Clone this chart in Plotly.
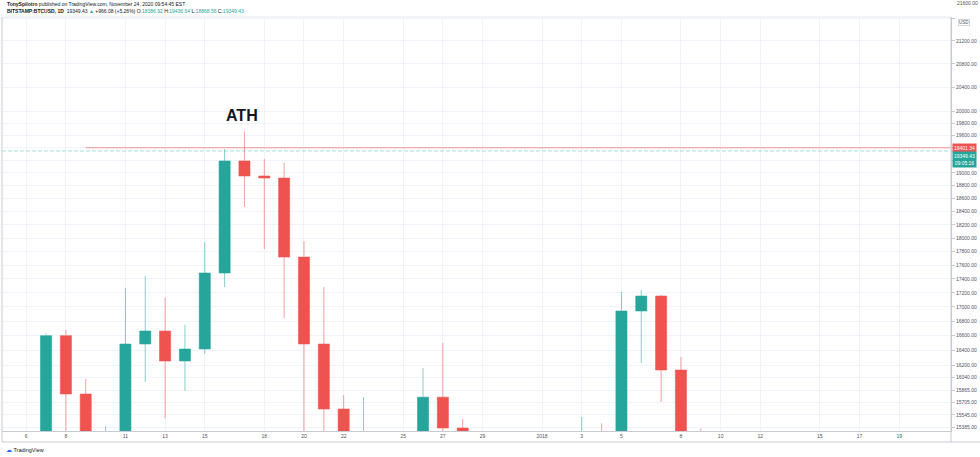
import math
import plotly.graph_objects as go

# ---------------- data ----------------
dates = ["2017-12-05", "2017-12-06", "2017-12-07", "2017-12-08", "2017-12-09", "2017-12-10",
         "2017-12-11", "2017-12-12", "2017-12-13", "2017-12-14", "2017-12-15", "2017-12-16",
         "2017-12-17", "2017-12-18", "2017-12-19", "2017-12-20", "2017-12-21", "2017-12-22",
         "2017-12-23", "2017-12-24", "2017-12-25", "2017-12-26", "2017-12-27", "2017-12-28",
         "2017-12-29", "2017-12-30", "2017-12-31", "2018-01-01", "2018-01-02", "2018-01-03",
         "2018-01-04", "2018-01-05", "2018-01-06", "2018-01-07", "2018-01-08", "2018-01-09"]
opens = [11600, 11700, 13700, 16600, 15815, 14700, 15100, 16485, 16664, 16254, 16417, 17486,
         19190, 18952, 18920, 17718, 16485, 15620, 13800, 14600, 13900, 13950, 15774, 15375,
         14300, 14600, 12800, 13900, 13400, 14700, 15100, 15050, 16943, 17155, 16133, 14976]
highs = [11900, 13900, 16630, 16680, 16013, 15400, 17270, 17440, 17130, 16750, 17940, 19380,
         19666, 19220, 19160, 17956, 17284, 15800, 15774, 14800, 14500, 16160, 16500, 15490,
         15100, 14800, 14300, 14000, 15200, 15516, 15435, 17212, 17240, 17170, 16308, 15370]
lows = [11450, 11700, 13300, 13900, 13900, 13200, 15000, 15975, 15500, 15856, 16350, 17284,
        18470, 17838, 16845, 14800, 14100, 11000, 13500, 12500, 13300, 13800, 14200, 13500,
        14000, 12300, 12700, 12800, 12900, 14600, 14000, 14800, 16227, 15711, 13900, 14150]
closes = [11700, 13700, 16600, 15815, 14700, 15100, 16485, 16664, 16254, 16417, 17486, 19190,
          18952, 18920, 17718, 16485, 15620, 13800, 14600, 13900, 13950, 15774, 15375, 14300,
          14600, 12800, 13900, 13400, 14700, 15100, 15050, 16943, 17155, 16133, 14976, 14595]

x_tick_dates = ["2017-12-06", "2017-12-08", "2017-12-11", "2017-12-13", "2017-12-15",
                "2017-12-18", "2017-12-20", "2017-12-22", "2017-12-25", "2017-12-27",
                "2017-12-29", "2018-01-01", "2018-01-03", "2018-01-05", "2018-01-08",
                "2018-01-10", "2018-01-12", "2018-01-15", "2018-01-17", "2018-01-19"]
x_tick_text = ["6", "8", "11", "13", "15", "18", "20", "22", "25", "27", "29", "2018",
               "3", "5", "8", "10", "12", "15", "17", "19"]

y_tick_vals = [21600, 21200, 20800, 20400, 20000, 19800, 19600, 19400, 19200, 19000, 18800,
               18600, 18400, 18200, 18000, 17800, 17600, 17400, 17200, 17000, 16800, 16600,
               16400, 16200, 16040, 15865, 15705, 15545, 15385]
y_tick_hidden = [21600, 19400, 19200]
top_label = 21600

last_high_price = 19401.34
last_price = 19349.43
countdown = "09:05:16"
red_line_start = "2017-12-09"

x_range = ["2017-12-04T18:43", "2018-01-21T14:38"]
y_range_prices = [15337, 21625]

UP = "#26a69a"
DOWN = "#ef5350"
GRID = "#f0f3fa"
AXIS = "#c8cbd3"
TXT = "#50535e"

fig = go.Figure()

fig.add_trace(go.Candlestick(
    x=dates, open=opens, high=highs, low=lows, close=closes,
    increasing=dict(fillcolor=UP, line=dict(color="rgba(38,166,154,0.55)", width=1)),
    decreasing=dict(fillcolor=DOWN, line=dict(color="rgba(239,83,80,0.55)", width=1)),
    whiskerwidth=0, hoverinfo="skip", showlegend=False,
))

# price lines
fig.add_trace(go.Scatter(
    x=x_range, y=[last_price, last_price], mode="lines",
    line=dict(color="rgba(38,166,154,0.4)", width=1, dash="4px,2px"),
    hoverinfo="skip", showlegend=False))
fig.add_trace(go.Scatter(
    x=[red_line_start, x_range[1]], y=[last_high_price, last_high_price], mode="lines",
    line=dict(color="rgba(239,83,80,0.6)", width=1),
    hoverinfo="skip", showlegend=False))

y_text = ["" if v in y_tick_hidden else f"{v:.2f}" for v in y_tick_vals]

fig.update_layout(
    width=980, height=457, autosize=False,
    margin=dict(l=2, r=29, t=17, b=26),
    paper_bgcolor="white", plot_bgcolor="white",
    font=dict(family="Arial", size=5, color=TXT),
    boxgap=0.2,
    xaxis=dict(
        type="date", range=x_range, rangeslider=dict(visible=False),
        tickvals=x_tick_dates, ticktext=x_tick_text, tickangle=0,
        showgrid=True, gridcolor=GRID, gridwidth=1,
        showline=True, linecolor=AXIS, linewidth=1,
        ticks="", tickfont=dict(size=5, color=TXT), zeroline=False,
    ),
    yaxis=dict(
        type="log", side="right",
        range=[math.log10(y_range_prices[0]), math.log10(y_range_prices[1])],
        tickvals=y_tick_vals, ticktext=y_text,
        showgrid=True, gridcolor=GRID, gridwidth=1,
        showline=True, linecolor=AXIS, linewidth=1,
        ticks="outside", ticklen=3, tickcolor=AXIS,
        tickfont=dict(size=5, color=TXT), zeroline=False,
    ),
)

bottom_y = -11 / 414
fig.add_shape(type="line", xref="paper", yref="paper", x0=0, x1=1.04, y0=bottom_y, y1=bottom_y,
              line=dict(color=AXIS, width=1))
fig.add_shape(type="line", xref="paper", yref="paper", x0=1, x1=1, y0=bottom_y, y1=1,
              line=dict(color=AXIS, width=1))
fig.add_shape(type="line", xref="paper", yref="paper", x0=0, x1=0, y0=bottom_y, y1=1,
              line=dict(color=AXIS, width=1))
fig.add_shape(type="line", xref="paper", yref="paper", x0=0, x1=1, y0=1, y1=1,
              line=dict(color="#e6e8ee", width=1))

annotations = [
    dict(text="<b>ATH</b>", x="2017-12-16T21:00", y=math.log10(19935), xref="x", yref="y",
         showarrow=False, font=dict(family="Arial", size=16, color="#131722")),
    dict(text=f"{last_high_price:.2f}", xref="paper", yref="y", x=1, y=math.log10(last_high_price),
         xanchor="left", yanchor="middle", xshift=1, showarrow=False,
         bgcolor=DOWN, borderpad=1, font=dict(size=5, color="white")),
    dict(text=f"{last_price:.2f}<br>{countdown}", xref="paper", yref="y", x=1,
         y=math.log10(last_price), xanchor="left", yanchor="top", xshift=1, showarrow=False,
         bgcolor=UP, borderpad=1, font=dict(size=5, color="white")),
    dict(text=f"{top_label:.2f}", xref="paper", yref="paper", x=1, y=(431 - 3) / 414,
         xanchor="left", yanchor="middle", xshift=4, showarrow=False,
         font=dict(size=5, color=TXT)),
    dict(text="USD", xref="paper", yref="paper", x=1, y=(431 - 22) / 414, xanchor="left",
         yanchor="middle", xshift=7, showarrow=False, bordercolor="#d1d4dc", borderwidth=1,
         borderpad=0, bgcolor="white", font=dict(size=4.5, color=TXT)),
    dict(text="<b>TonySpilotro</b> published on TradingView.com, November 24, 2020 09:54:45 EST",
         xref="paper", yref="paper", x=0, y=(431 - 4) / 414, xanchor="left", yanchor="middle",
         xshift=3, showarrow=False, font=dict(size=5, color="#131722")),
    dict(text=("<b>BITSTAMP:BTCUSD, 1D</b>  19349.43 <span style='color:#26a69a'>▲</span> "
               "+966.08 (+5.26%) O:<span style='color:#26a69a'>18386.92</span> "
               "H:<span style='color:#26a69a'>19436.64</span> "
               "L:<span style='color:#26a69a'>18868.56</span> "
               "C:<span style='color:#26a69a'>19349.43</span>"),
         xref="paper", yref="paper", x=0, y=(431 - 11) / 414, xanchor="left", yanchor="middle",
         xshift=3, showarrow=False, font=dict(size=5, color="#131722")),
    dict(text="<span style='color:#2962ff'>☁</span> TradingView", xref="paper", yref="paper",
         x=0, y=-(450 - 431) / 414, xanchor="left", yanchor="middle", xshift=2,
         showarrow=False, font=dict(size=5.5, color="#131722")),
]
fig.update_layout(annotations=annotations)

fig.write_html("out.html")
